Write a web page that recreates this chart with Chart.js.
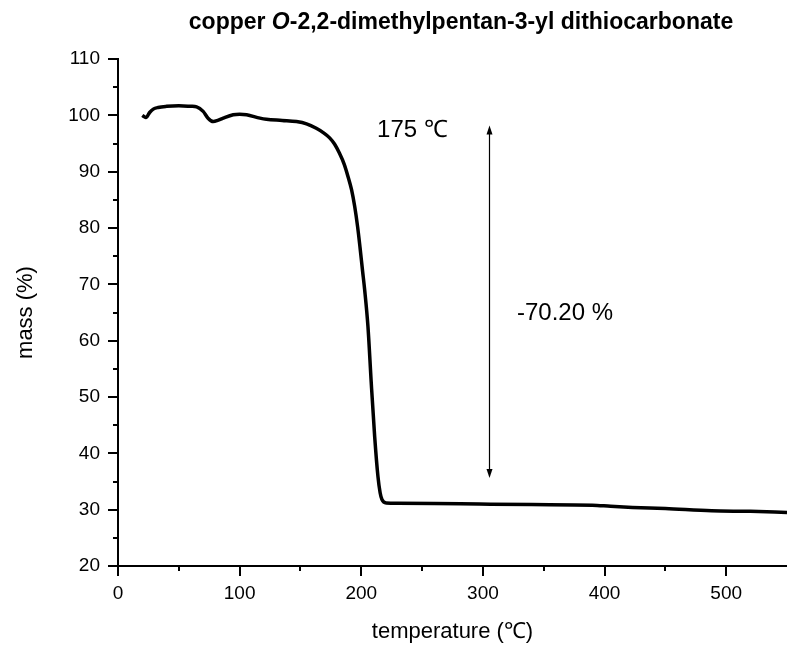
<!DOCTYPE html>
<html>
<head>
<meta charset="utf-8">
<script src="https://cdn.jsdelivr.net/npm/chart.js@4.4.1/dist/chart.umd.min.js"></script>
<style>
  html, body { margin: 0; padding: 0; background: #fff; }
  canvas { display: block; }
</style>
</head>
<body>
<canvas id="c" width="787" height="645"></canvas>
<script>
// ---- data ----
const temperature = [20, 21.3, 23, 26, 29, 33, 40, 50, 60, 64.6, 70, 74, 78.3, 82, 86.5, 94.7, 100, 105.7, 116.7, 122, 135, 146.7, 155, 163, 169, 174, 178, 182, 186, 189, 192, 194.6, 197, 199, 201, 202.8, 205.5, 208.2, 211, 213.7, 215.5, 217, 220.5, 230, 260, 297, 340, 390, 405, 423, 450, 488, 520, 550];
const massPct     = [100.0, 99.8, 99.6, 100.5, 101.1, 101.4, 101.6, 101.7, 101.6, 101.5, 100.7, 99.5, 98.9, 99.1, 99.5, 100.1, 100.2, 100.1, 99.5, 99.3, 99.1, 98.9, 98.5, 97.7, 96.9, 96.0, 94.9, 93.3, 91.3, 89.2, 86.8, 83.8, 80.2, 76.5, 72.5, 69.0, 62.5, 52.5, 43.0, 35.9, 33.0, 31.8, 31.2, 31.15, 31.1, 31.0, 30.9, 30.8, 30.6, 30.4, 30.2, 29.8, 29.7, 29.5];

const xTickValues = [0, 100, 200, 300, 400, 500];
const yTickValues = [20, 30, 40, 50, 60, 70, 80, 90, 100, 110];

const chartTitleParts = ["copper ", "O", "-2,2-dimethylpentan-3-yl dithiocarbonate"];
const xTitle = "temperature (\u2103)";
const yTitle = "mass (%)";

// annotation: double arrow and labels (data coordinates)
const arrowTemp = 305;
const arrowFrom = 35.6;
const arrowTo = 98.2;
const labelOnset = { text: "175 \u2103", x: 213, y: 97.4 };
const labelLoss  = { text: "-70.20 %", x: 328, y: 64.9 };

// ---- chart ----
const FONT = "'Liberation Sans', Arial, Helvetica, sans-serif";
Chart.defaults.font.family = FONT;
Chart.defaults.color = '#000';

const extras = {
  id: 'extras',
  afterDraw(chart) {
    const ctx = chart.ctx;
    const xs = chart.scales.x, ys = chart.scales.y;
    const area = chart.chartArea;
    ctx.save();
    ctx.strokeStyle = '#000';
    ctx.fillStyle = '#000';
    ctx.lineWidth = 2;
    // y ticks (major + minor)
    for (let v = ys.min; v <= ys.max + 1e-9; v += 5) {
      const major = yTickValues.includes(v);
      const len = major ? 10 : 5;
      const py = Math.round(ys.getPixelForValue(v));
      ctx.beginPath();
      ctx.moveTo(area.left - len, py);
      ctx.lineTo(area.left, py);
      ctx.stroke();
    }
    // x ticks (major + minor)
    for (let v = 0; v <= 500 + 1e-9; v += 50) {
      const major = xTickValues.includes(v);
      const len = major ? 10 : 5;
      const px = Math.round(xs.getPixelForValue(v));
      ctx.beginPath();
      ctx.moveTo(px, area.bottom);
      ctx.lineTo(px, area.bottom + len);
      ctx.stroke();
    }
    // title with italic O
    const fontB = "bold 23px " + FONT;
    const fontBI = "italic bold 23px " + FONT;
    ctx.textBaseline = 'alphabetic';
    ctx.textAlign = 'left';
    const widths = chartTitleParts.map((p, i) => { ctx.font = i === 1 ? fontBI : fontB; return ctx.measureText(p).width; });
    const total = widths.reduce((a, b) => a + b, 0);
    let tx = 461 - total / 2;
    chartTitleParts.forEach((p, i) => {
      ctx.font = i === 1 ? fontBI : fontB;
      ctx.fillText(p, tx, 29);
      tx += widths[i];
    });
    // double arrow
    const ax = Math.round(xs.getPixelForValue(arrowTemp)) + 0.5;
    const ay1 = ys.getPixelForValue(arrowFrom);
    const ay2 = ys.getPixelForValue(arrowTo);
    ctx.lineWidth = 1.2;
    ctx.beginPath();
    ctx.moveTo(ax, ay1 - 6);
    ctx.lineTo(ax, ay2 + 6);
    ctx.stroke();
    ctx.beginPath();
    ctx.moveTo(ax, ay2); ctx.lineTo(ax - 3, ay2 + 9); ctx.lineTo(ax + 3, ay2 + 9); ctx.closePath(); ctx.fill();
    ctx.beginPath();
    ctx.moveTo(ax, ay1); ctx.lineTo(ax - 3, ay1 - 9); ctx.lineTo(ax + 3, ay1 - 9); ctx.closePath(); ctx.fill();
    // labels
    ctx.font = "24px " + FONT;
    ctx.textBaseline = 'middle';
    ctx.textAlign = 'left';
    ctx.fillText(labelOnset.text, xs.getPixelForValue(labelOnset.x), ys.getPixelForValue(labelOnset.y));
    ctx.fillText(labelLoss.text, xs.getPixelForValue(labelLoss.x), ys.getPixelForValue(labelLoss.y));
    ctx.restore();
  }
};

new Chart(document.getElementById('c'), {
  type: 'line',
  data: {
    datasets: [{
      data: temperature.map((t, i) => ({ x: t, y: massPct[i] })),
      borderColor: '#000',
      borderWidth: 3.5,
      pointRadius: 0,
      fill: false,
      cubicInterpolationMode: 'monotone'
    }]
  },
  options: {
    responsive: false,
    animation: false,
    devicePixelRatio: 1,
    layout: { padding: { top: 59, right: 0, left: 0, bottom: 0 } },
    plugins: { legend: { display: false }, title: { display: false }, tooltip: { enabled: false } },
    scales: {
      x: {
        type: 'linear',
        min: 0, max: 550,
        grid: { display: false, drawTicks: false },
        border: { display: true, color: '#000', width: 2 },
        afterBuildTicks: s => { s.ticks = xTickValues.map(v => ({ value: v })); },
        ticks: { autoSkip: false, maxRotation: 0, padding: 16, font: { size: 19 }, color: '#000' },
        title: { display: true, text: xTitle, font: { size: 22 }, padding: { top: 0, bottom: 0 }, color: '#000' },
        afterFit: s => { s.height = 79; }
      },
      y: {
        type: 'linear',
        min: 20, max: 110,
        grid: { display: false, drawTicks: false },
        border: { display: true, color: '#000', width: 2 },
        afterBuildTicks: s => { s.ticks = yTickValues.map(v => ({ value: v })); },
        ticks: { autoSkip: false, padding: 18, font: { size: 19 }, color: '#000' },
        title: { display: true, text: yTitle, font: { size: 22 }, padding: { top: 13, bottom: 0 }, color: '#000' },
        afterFit: s => { s.width = 118; }
      }
    }
  },
  plugins: [extras]
});
</script>
</body>
</html>
